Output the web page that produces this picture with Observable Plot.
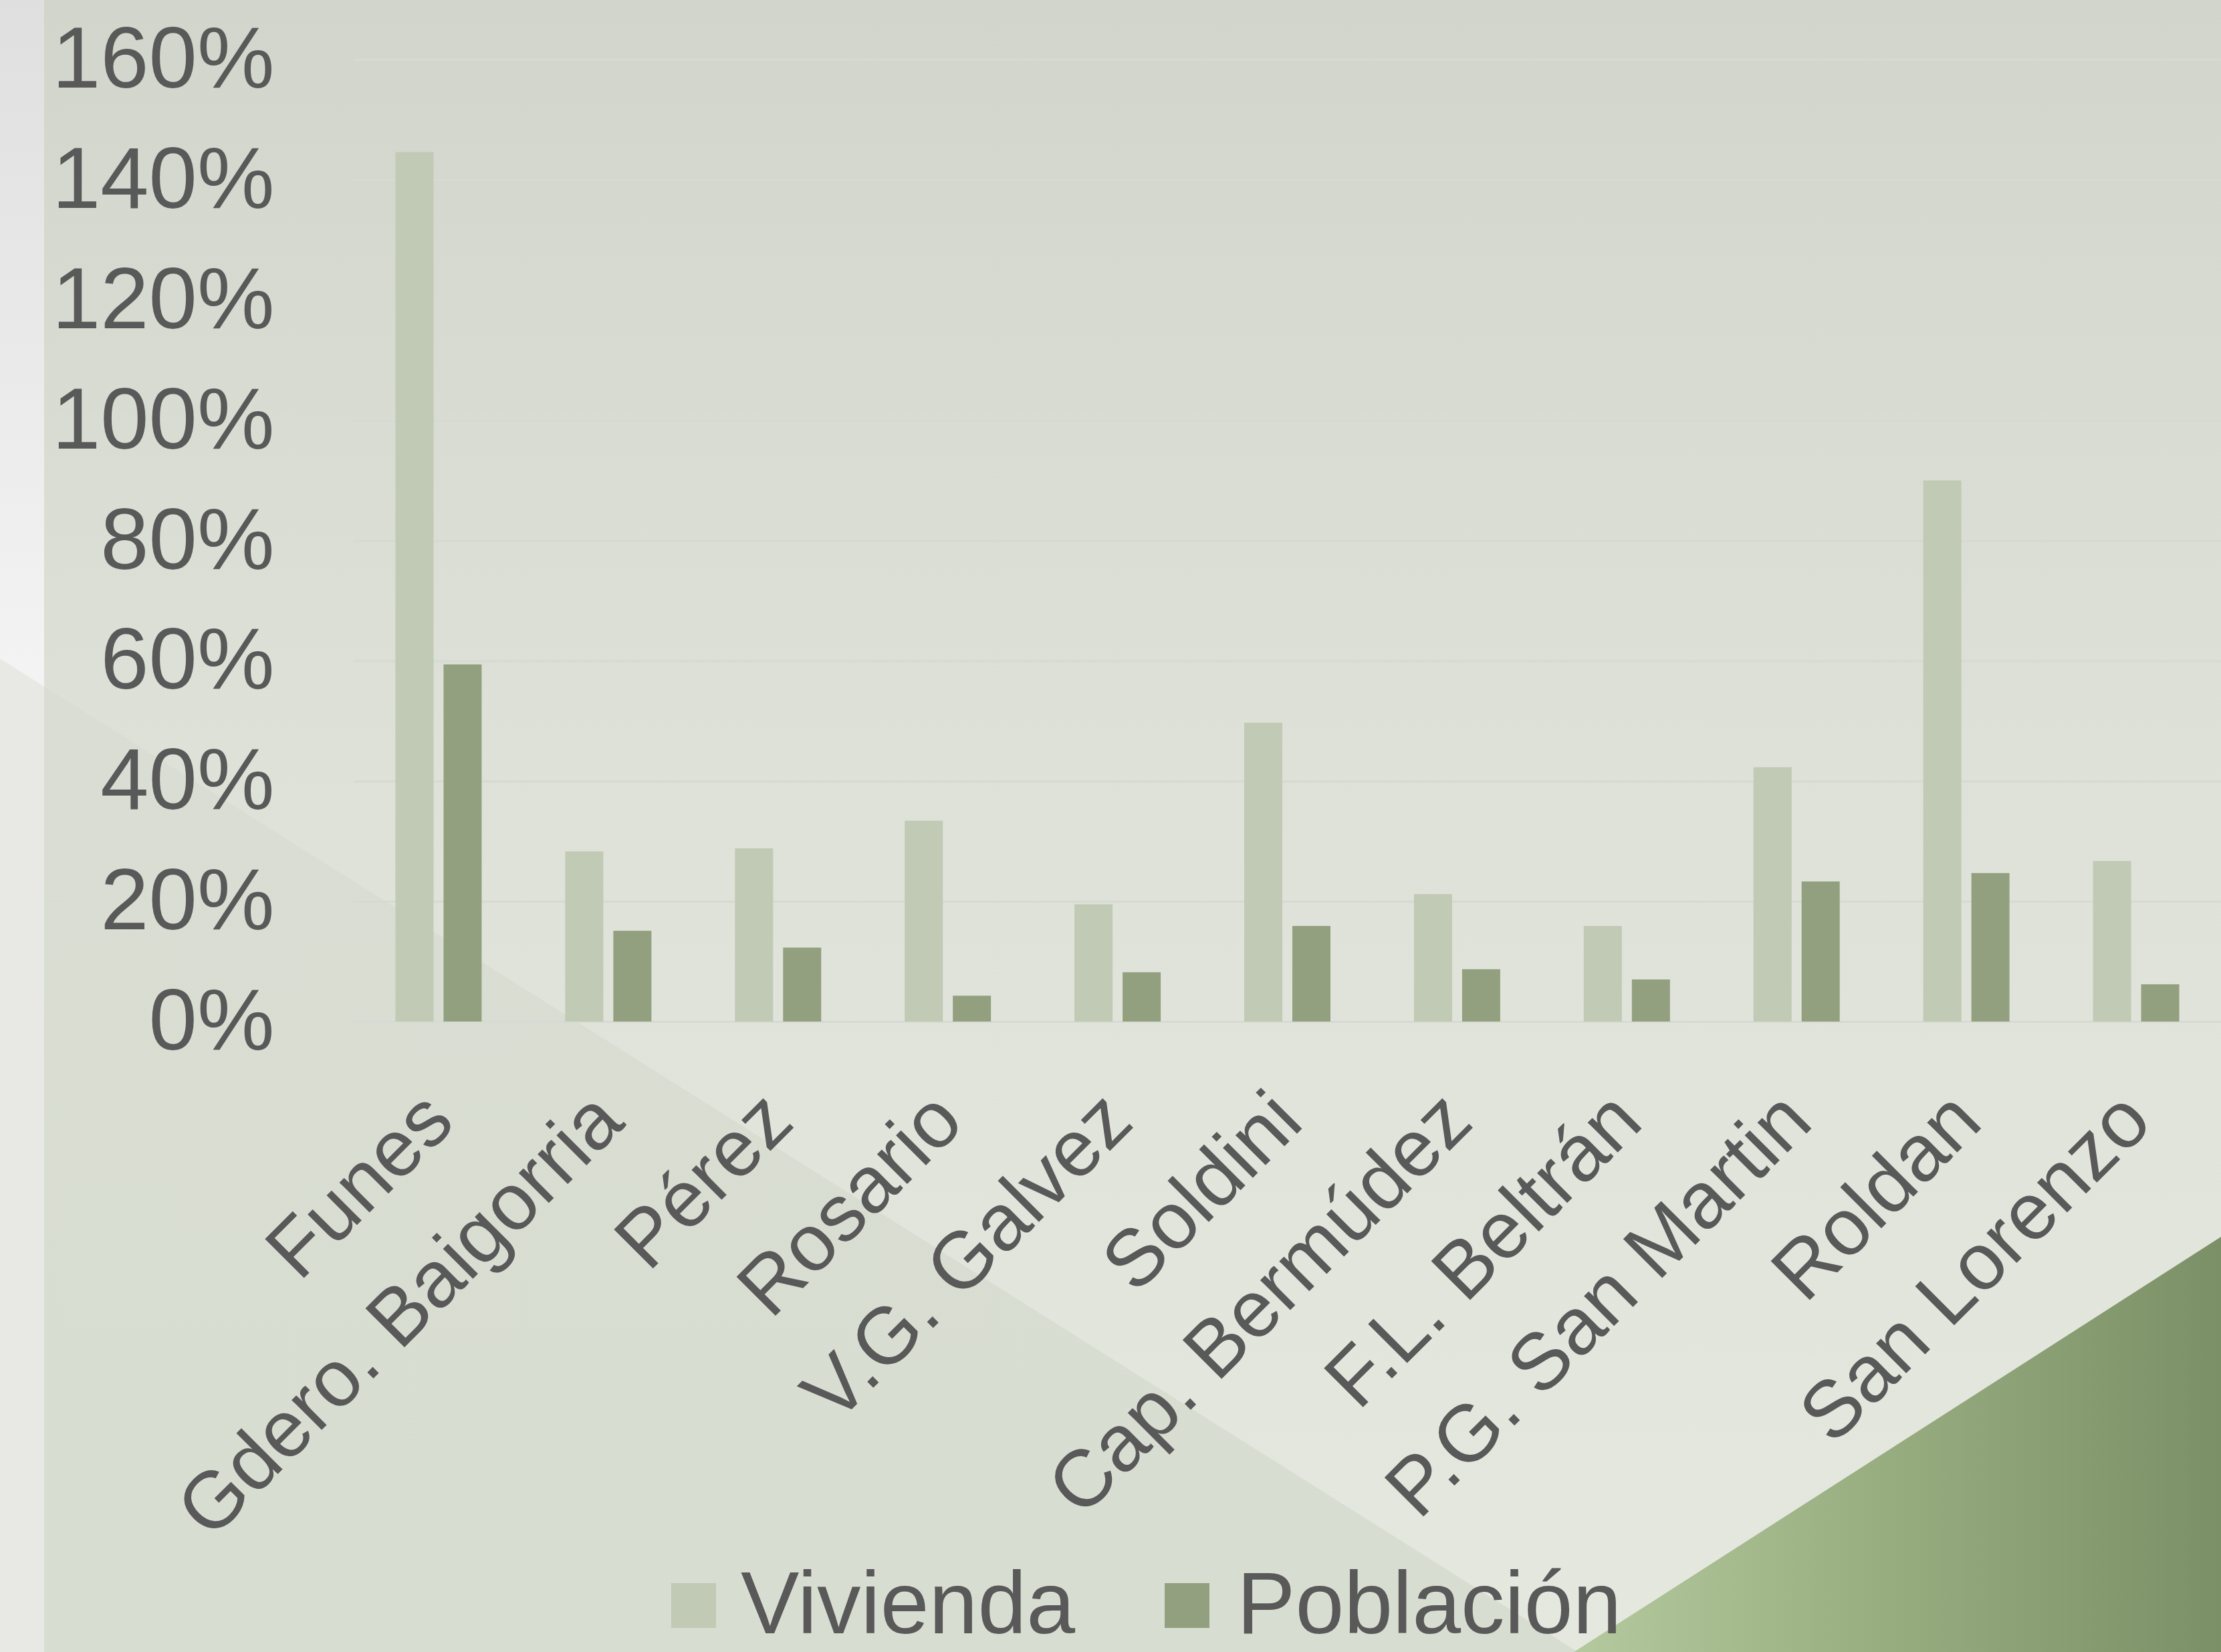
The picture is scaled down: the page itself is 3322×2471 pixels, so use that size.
<!DOCTYPE html>
<html>
<head>
<meta charset="utf-8">
<script src="https://cdn.jsdelivr.net/npm/d3@7"></script>
<script src="https://cdn.jsdelivr.net/npm/@observablehq/plot@0.6"></script>
<style>
  html, body { margin: 0; padding: 0; background: #e2e5dc; }
  #wrap { position: relative; width: 3322px; height: 2471px; overflow: hidden; font-family: "Liberation Sans", Arial, sans-serif; }
  #bg, #chart, #legend { position: absolute; left: 0; top: 0; }
  .lg-sw { position: absolute; }
  .lg-tx { position: absolute; font-size: 131px; line-height: 111px; height: 111px; color: #595959; white-space: nowrap; }
</style>
</head>
<body>
<div id="wrap">
  <svg id="bg" width="3322" height="2471" xmlns="http://www.w3.org/2000/svg">
    <defs>
      <linearGradient id="mainBg" x1="0" y1="0" x2="0" y2="1">
        <stop offset="0" stop-color="#d1d5cb"/>
        <stop offset="0.45" stop-color="#dee1d8"/>
        <stop offset="1" stop-color="#e5e8df"/>
      </linearGradient>
      <linearGradient id="stripBg" x1="0" y1="0" x2="0" y2="1">
        <stop offset="0" stop-color="#dfdfdf"/>
        <stop offset="0.4" stop-color="#f3f3f3"/>
        <stop offset="1" stop-color="#ededea"/>
      </linearGradient>
      <linearGradient id="triBg" x1="0" y1="0" x2="0" y2="1">
        <stop offset="0" stop-color="#d9ddd3"/>
        <stop offset="1" stop-color="#d8ddd1"/>
      </linearGradient>
      <linearGradient id="greenBg" x1="2354" y1="0" x2="3322" y2="0" gradientUnits="userSpaceOnUse">
        <stop offset="0" stop-color="#b4c99d"/>
        <stop offset="0.45" stop-color="#99ae81"/>
        <stop offset="1" stop-color="#7c9067"/>
      </linearGradient>
    </defs>
    <rect x="0" y="0" width="3322" height="2471" fill="url(#mainBg)"/>
    <polygon points="0,985 2360,2471 0,2471" fill="url(#triBg)"/>
    <rect x="0" y="0" width="66" height="2471" fill="url(#stripBg)"/>
    <polygon points="0,985 66,1027 66,2471 0,2471" fill="#e8e8e4"/>
    <polygon points="2354,2471 3322,1850 3322,2471" fill="url(#greenBg)"/>
  </svg>
  <div id="chart"></div>
  <div id="legend"></div>
</div>
<script>
// ---- data ----
const cities = ["Funes", "Gdero. Baigorria", "Pérez", "Rosario", "V.G. Galvez", "Soldini", "Cap. Bermúdez", "F.L. Beltrán", "P.G. San Martin", "Roldan", "San Lorenzo"];
const series = ["Vivienda", "Población"];
const vivienda = [144.6, 28.3, 28.8, 33.4, 19.5, 49.7, 21.2, 15.9, 42.3, 90.0, 26.7];
const poblacion = [59.4, 15.1, 12.3, 4.3, 8.2, 15.9, 8.7, 7.0, 23.3, 24.7, 6.2];
const yTicks = [0, 20, 40, 60, 80, 100, 120, 140, 160];
const seriesColors = ["#c0cab4", "#93a07f"];

const rows = [];
cities.forEach((c, i) => {
  rows.push({city: c, series: series[0], value: vivienda[i]});
  rows.push({city: c, series: series[1], value: poblacion[i]});
});

const font = "'Liberation Sans', Arial, sans-serif";
const textColor = "#595959";

const chart = Plot.plot({
  width: 3322,
  height: 2471,
  marginLeft: 529,
  marginRight: 0,
  marginTop: 89,
  marginBottom: 943,
  style: {background: "transparent", fontFamily: font, overflow: "visible"},
  fx: {domain: cities, padding: 0, round: false},
  x: {domain: series, paddingInner: 0.208, paddingOuter: 0.868, round: false, axis: null},
  y: {domain: [0, 160], axis: null},
  color: {domain: series, range: seriesColors},
  marks: [
    Plot.ruleY(yTicks, {stroke: "#d7dad2", strokeWidth: 3}),
    Plot.barY(rows, {fx: "city", x: "series", y: "value", fill: "series"}),
    Plot.axisY({ticks: yTicks, tickFormat: d => d + "%", tickSize: 0, tickPadding: 119, fontSize: 130, fill: textColor, label: null}),
    Plot.axisFx({anchor: "bottom", tickRotate: -45, tickSize: 0, tickPadding: 127, fontSize: 120, fill: textColor, label: null})
  ]
});
document.getElementById("chart").appendChild(chart);

// ---- legend ----
const legend = document.getElementById("legend");
const swatchX = [1004, 1742];
const textX = [1108, 1850];
series.forEach((s, i) => {
  const sw = document.createElement("div");
  sw.className = "lg-sw";
  sw.style.left = swatchX[i] + "px";
  sw.style.top = "2368px";
  sw.style.width = "67px";
  sw.style.height = "67px";
  sw.style.background = seriesColors[i];
  legend.appendChild(sw);
  const tx = document.createElement("div");
  tx.className = "lg-tx";
  tx.style.left = textX[i] + "px";
  tx.style.top = "2342px";
  tx.textContent = s;
  legend.appendChild(tx);
});
</script>
</body>
</html>
